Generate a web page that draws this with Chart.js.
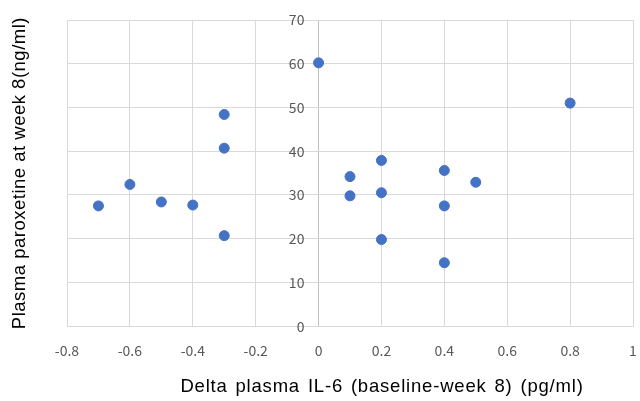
<!DOCTYPE html>
<html>
<head>
<meta charset="utf-8">
<script src="https://cdn.jsdelivr.net/npm/chart.js@4"></script>
<style>
  body { margin: 0; background: #fff; }
</style>
</head>
<body>
<canvas id="myChart" width="640" height="401"></canvas>
<script>
'use strict';

// delta IL-6 (x) and paroxetine level (y)
const deltaIL6 = [-0.7, -0.6, -0.5, -0.4, -0.3, -0.3, -0.3, 0, 0.1, 0.1, 0.2, 0.2, 0.2, 0.4, 0.4, 0.4, 0.5, 0.8];
const paroxetine = [27.5, 32.4, 28.4, 27.7, 48.4, 40.7, 20.7, 60.2, 34.2, 29.8, 37.9, 30.5, 19.8, 35.6, 27.5, 14.5, 32.9, 51.0];

const xTitle = 'Delta plasma IL-6 (baseline-week 8) (pg/ml)';
const yTitle = 'Plasma paroxetine at week 8(ng/ml)';

const points = deltaIL6.map((x, i) => ({ x: x, y: paroxetine[i] }));

const tickFont = { family: "'Noto Sans CJK JP', 'Noto Sans', sans-serif", size: 14 };
const gridColor = '#d9d9d9';
const axisColor = '#bfbfbf';

// axis titles drawn by hand so they sit where the original has them
const titlePlugin = {
  id: 'titles',
  afterDraw(chart) {
    const c = chart.ctx;
    const area = chart.chartArea;
    c.save();
    c.fillStyle = '#000';
    c.font = "18.5px 'Liberation Sans', Arial, sans-serif";
    c.textAlign = 'center';
    c.textBaseline = 'middle';
    c.letterSpacing = '0.8px';
    c.wordSpacing = '2px';
    c.fillText(xTitle, (area.left + area.right) / 2 + 32, 387);
    c.letterSpacing = '0.5px';
    c.wordSpacing = '0px';
    c.translate(20, (area.top + area.bottom) / 2);
    c.rotate(-Math.PI / 2);
    c.fillText(yTitle, 0, 0);
    c.restore();
  }
};

const ctx = document.getElementById('myChart');

let mainChart = new Chart(ctx, {
  type: 'scatter',
  data: {
    datasets: [{
      data: points,
      backgroundColor: '#4472c4',
      borderColor: '#4472c4',
      pointRadius: 5,
      pointHoverRadius: 5
    }]
  },
  options: {
    responsive: false,
    animation: false,
    layout: {
      padding: { left: 67, right: 7, top: 20, bottom: 26 }
    },
    plugins: {
      legend: { display: false },
      tooltip: { enabled: false }
    },
    scales: {
      x: {
        type: 'linear',
        position: 'bottom',
        min: -0.8,
        max: 1,
        ticks: {
          stepSize: 0.2,
          color: '#595959',
          font: tickFont,
          padding: 16,
          callback: (v) => String(Math.round(v * 10) / 10)
        },
        grid: {
          color: (c) => (c.tick && Math.abs(c.tick.value) < 1e-9 ? axisColor : gridColor),
          drawTicks: false
        },
        border: { color: gridColor },
        // don't let the edge labels eat into the plot width
        afterFit(scale) {
          scale.paddingLeft = 0;
          scale.paddingRight = 0;
        }
      },
      y: {
        type: 'linear',
        // labels sit just left of the x = 0 line
        position: { x: -0.045 },
        min: 0,
        max: 70,
        ticks: { stepSize: 10, color: '#595959', font: tickFont },
        grid: { color: gridColor, drawTicks: false },
        border: { display: false }
      }
    }
  },
  plugins: [titlePlugin]
});
</script>
</body>
</html>
